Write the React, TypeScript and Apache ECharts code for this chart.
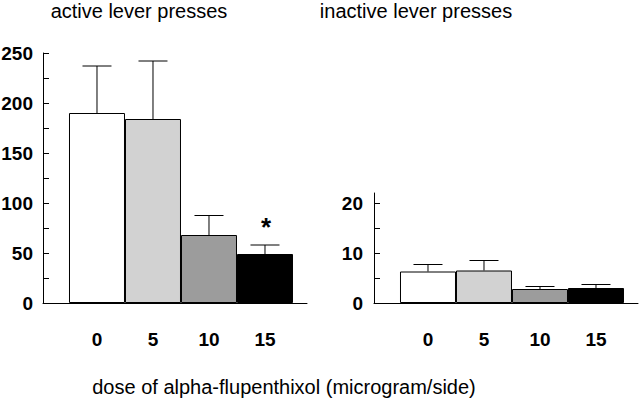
import React, { useEffect, useRef } from "react";
import * as echarts from "echarts";

const doses = ["0", "5", "10", "15"];
const activeMeans = [190, 184, 68, 49];
const activeErrors = [47, 58, 19.5, 9];
const inactiveMeans = [6.3, 6.5, 2.8, 3.0];
const inactiveErrors = [1.4, 2.0, 0.5, 0.7];
const significance = ["", "", "", "*"];
const barColors = ["#ffffff", "#d2d2d2", "#9c9c9c", "#000000"];
const activeTicks = [0, 25, 50, 75, 100, 125, 150, 175, 200, 225, 250];
const activeLabels = [0, 50, 100, 150, 200, 250];
const inactiveTicks = [0, 5, 10, 15, 20];
const inactiveLabels = [0, 10, 20];
const categoryIdx = [0, 1, 2, 3];

const FONT = "'Liberation Sans', Arial, Helvetica, sans-serif";

function yAxisDef(gridIndex: number, max: number, ticks: number[], labels: number[], margin: number) {
  return {
    type: "value",
    gridIndex,
    min: 0,
    max,
    axisLine: { show: true, onZero: false, lineStyle: { color: "#000", width: 1 } },
    axisTick: { show: true, inside: true, length: 6, customValues: ticks, lineStyle: { color: "#000" } },
    axisLabel: {
      show: true,
      customValues: labels,
      margin,
      color: "#000",
      fontSize: 19,
      fontWeight: "bold",
      fontFamily: FONT,
    },
    splitLine: { show: false },
  };
}

function xAxisDef(gridIndex: number) {
  return {
    type: "value",
    gridIndex,
    min: -0.964,
    max: 3.75,
    axisLine: { show: true, onZero: false, lineStyle: { color: "#000", width: 1 } },
    axisTick: { show: false },
    axisLabel: {
      show: true,
      customValues: categoryIdx,
      formatter: (v: number) => doses[Math.round(v)] ?? "",
      margin: 27,
      color: "#000",
      fontSize: 19,
      fontWeight: "bold",
      fontFamily: FONT,
    },
    splitLine: { show: false },
  };
}

function barSeries(axisIndex: number, means: number[]) {
  return {
    type: "bar",
    xAxisIndex: axisIndex,
    yAxisIndex: axisIndex,
    barWidth: 56,
    data: means.map((m, i) => ({
      value: [i, m],
      itemStyle: { color: barColors[i], borderColor: "#000", borderWidth: 1 },
    })),
  };
}

function errorSeries(axisIndex: number, means: number[], errors: number[], marks: string[]) {
  return {
    type: "custom",
    xAxisIndex: axisIndex,
    yAxisIndex: axisIndex,
    z: 5,
    data: means.map((m, i) => [i, m, errors[i], i]),
    renderItem: (params: any, api: any) => {
      const i = api.value(0);
      const m = api.value(1);
      const e = api.value(2);
      const idx = api.value(3);
      const pBase = api.coord([i, m]);
      const pTop = api.coord([i, m + e]);
      const half = 14.5;
      const style = { stroke: "#000", lineWidth: 1 };
      const children: any[] = [
        { type: "line", shape: { x1: pBase[0], y1: pBase[1], x2: pTop[0], y2: pTop[1] }, style },
        { type: "line", shape: { x1: pTop[0] - half, y1: pTop[1], x2: pTop[0] + half, y2: pTop[1] }, style },
      ];
      const mark = marks[idx];
      if (mark) {
        children.push({
          type: "text",
          x: pTop[0] + 1,
          y: pTop[1] - 18,
          style: {
            text: mark,
            fill: "#000",
            font: `bold 26px ${FONT}`,
            textAlign: "center",
            textVerticalAlign: "middle",
          },
        });
      }
      return { type: "group", children };
    },
  };
}

export default function App() {
  const ref = useRef<HTMLDivElement>(null);
  useEffect(() => {
    if (!ref.current) return;
    const chart = echarts.init(ref.current, null, { renderer: "svg" });
    chart.setOption({
      animation: false,
      backgroundColor: "#fff",
      grid: [
        { left: 43, top: 53, width: 264, height: 250, containLabel: false, outerBoundsMode: "none" },
        { left: 374, top: 193, width: 264, height: 110, containLabel: false, outerBoundsMode: "none" },
      ],
      xAxis: [xAxisDef(0), xAxisDef(1)],
      yAxis: [
        yAxisDef(0, 250, activeTicks, activeLabels, 10),
        yAxisDef(1, 22, inactiveTicks, inactiveLabels, 11),
      ],
      graphic: [
        {
          type: "text",
          x: 139,
          y: 11,
          style: { text: "active lever presses", fill: "#000", font: `20px ${FONT}`, textAlign: "center", textVerticalAlign: "middle" },
        },
        {
          type: "text",
          x: 416,
          y: 11,
          style: { text: "inactive lever presses", fill: "#000", font: `20px ${FONT}`, textAlign: "center", textVerticalAlign: "middle" },
        },
        {
          type: "text",
          x: 284,
          y: 387,
          style: {
            text: "dose of alpha-flupenthixol (microgram/side)",
            fill: "#000",
            font: `20px ${FONT}`,
            textAlign: "center",
            textVerticalAlign: "middle",
          },
        },
      ],
      series: [
        barSeries(0, activeMeans),
        errorSeries(0, activeMeans, activeErrors, significance),
        barSeries(1, inactiveMeans),
        errorSeries(1, inactiveMeans, inactiveErrors, ["", "", "", ""]),
      ],
    });
    return () => chart.dispose();
  }, []);
  return (
    <div
      ref={ref}
      style={{ position: "fixed", left: 0, top: 0, width: 640, height: 403, background: "#fff" }}
    />
  );
}
